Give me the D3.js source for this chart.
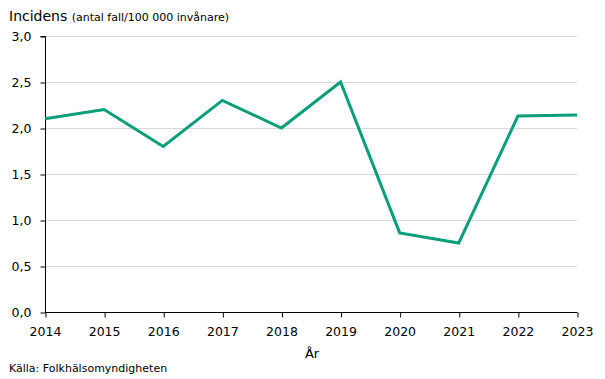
<!DOCTYPE html>
<html><head><meta charset="utf-8">
<script src="https://cdn.jsdelivr.net/npm/d3@7"></script>
<style>body{margin:0;background:#fff}svg{display:block}text{font-family:"DejaVu Sans",Verdana,sans-serif;fill:#000}</style>
</head><body><svg id="c" width="605" height="379"></svg>
<script>
const years = [2014,2015,2016,2017,2018,2019,2020,2021,2022,2023];
const incidence = [2.1,2.2,1.8,2.3,2.0,2.5,0.86,0.75,2.13,2.14];
const yTicks = [0,0.5,1,1.5,2,2.5,3];
const titleMain = "Incidens";
const titleSub = "(antal fall/100 000 invånare)";
const xTitle = "År";
const source = "Källa: Folkhälsomyndigheten";

const svg = d3.select("#c");
const m = {l:45, r:28, t:36, b:67};
const W = 605, H = 379;
const x = d3.scaleLinear().domain([2014,2023]).range([m.l, W-m.r]);
const y = d3.scaleLinear().domain([0,3]).range([H-m.b, m.t]);

// gridlines
svg.append("g").selectAll("line").data(yTicks.filter(d=>d>0)).join("line")
  .attr("x1", m.l).attr("x2", W-m.r)
  .attr("y1", d=>y(d)+0.5).attr("y2", d=>y(d)+0.5)
  .attr("stroke","#d9d9d9").attr("stroke-width",1);

const fmt = d => d3.format(".1f")(d).replace(".",",");
const ya = svg.append("g").attr("transform",`translate(${m.l+0.5},0)`)
  .call(d3.axisLeft(y).tickValues(yTicks).tickFormat(fmt).tickSize(5).tickPadding(9));
ya.select(".domain").attr("stroke","#000").attr("d",`M-5,${y(3)+0.5}H0V${y(0)}`);
ya.selectAll(".tick line").attr("stroke","#000").attr("transform","translate(0,0.5)");
ya.selectAll("text").style("font-size","12.5px").attr("dy","0.35em");

const xa = svg.append("g").attr("transform",`translate(0,${y(0)+0.5})`)
  .call(d3.axisBottom(x).tickValues(years).tickFormat(d3.format("d")).tickSize(5).tickPadding(10));
xa.select(".domain").attr("stroke","#000").attr("d",`M${m.l},0H${W-m.r+0.5}`);
xa.selectAll(".tick line").attr("stroke","#000").attr("transform","translate(0.5,0)");
xa.selectAll("text").style("font-size","12.5px");

svg.append("path").datum(years.map((d,i)=>[d,incidence[i]]))
  .attr("fill","none").attr("stroke","#0a9e7b").attr("stroke-width",3)
  .attr("stroke-linejoin","miter")
  .attr("d", d3.line().x(d=>x(d[0])).y(d=>y(d[1])));

const t = svg.append("text").attr("x",9).attr("y",21);
t.append("tspan").text(titleMain).style("font-size","14px");
t.append("tspan").text(" "+titleSub).style("font-size","11px").attr("dx",1);

svg.append("text").attr("x",312).attr("y",358).attr("text-anchor","middle").style("font-size","13px").text(xTitle);
svg.append("text").attr("x",9).attr("y",372).style("font-size","11px").text(source);
</script></body></html>
